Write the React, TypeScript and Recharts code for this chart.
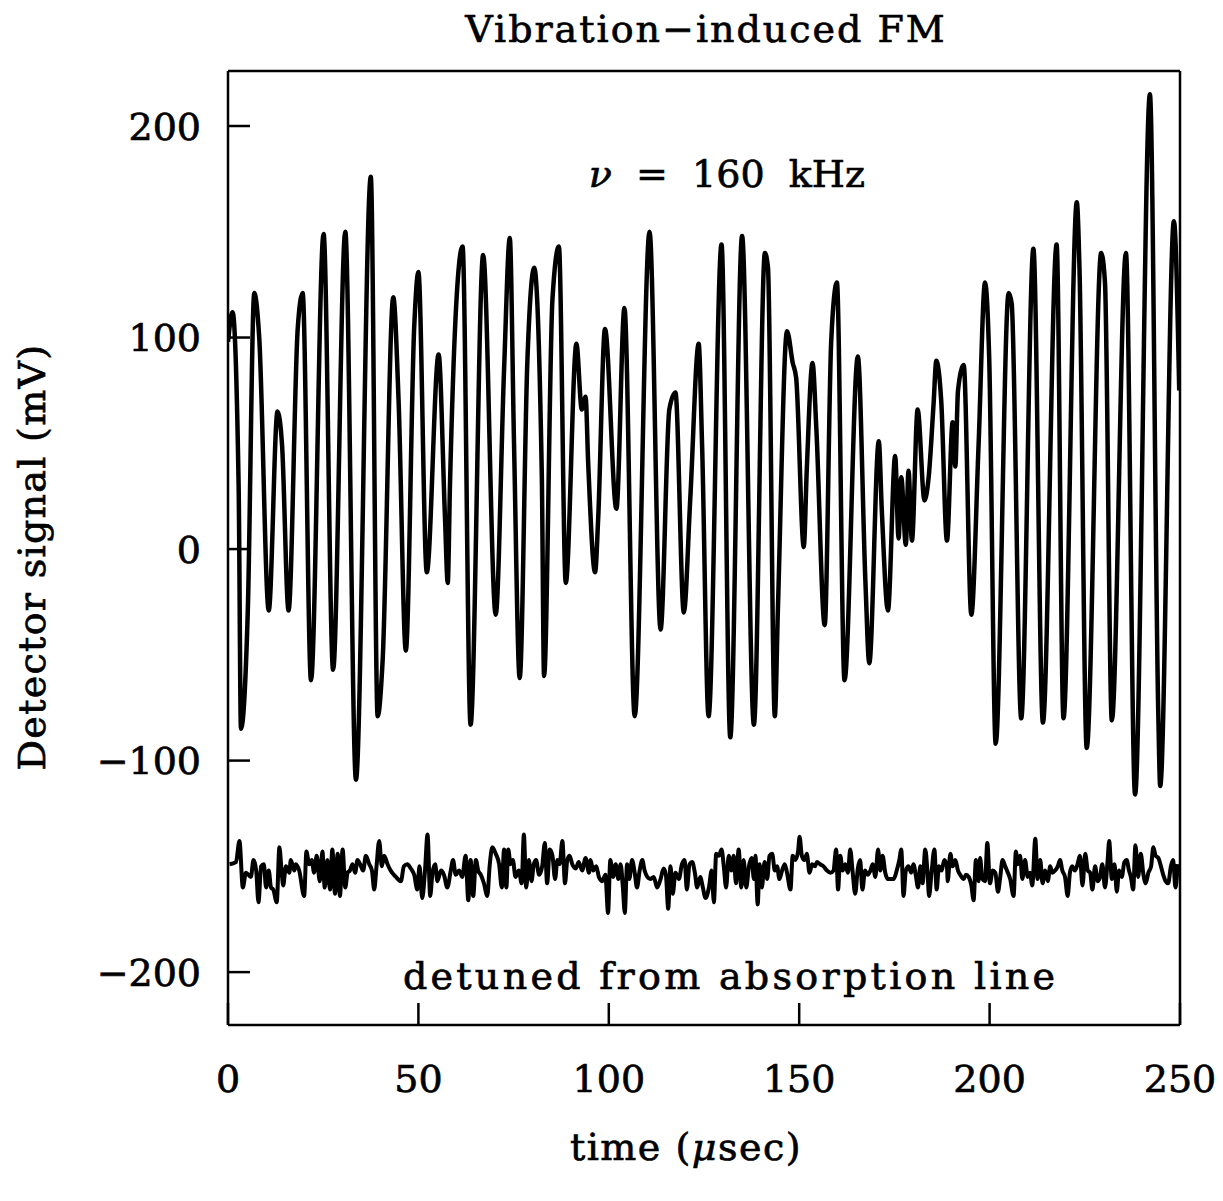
import { LineChart, Line, XAxis, YAxis, ReferenceDot } from 'recharts'

const xTicks = [0, 50, 100, 150, 200, 250]
const yTicks = [-200, -100, 0, 100, 200]

// detector output with the laser on the absorption line, [t (usec), mV]
const onLine: [number, number][] = [
  [0, 98], [1.2, 112], [2.8, 29], [3.4, -85], [5.2, -29], [6.9, 121], [8.2, 100], [10.7, -29],
  [13.0, 65], [14.2, 49], [15.9, -29], [18.3, 104], [19.6, 121], [21.8, -62], [25.1, 149], [27.6, -57],
  [30.8, 150], [33.6, -109], [37.5, 176], [39.3, -79], [40.6, -53], [43.4, 119], [44.8, 70], [46.7, -48],
  [48.9, 105], [50.0, 131], [52.2, -11], [55.3, 92], [57.0, 14], [57.7, -16], [58.3, 31], [59.8, 111],
  [61.6, 143], [63.7, -83], [67.0, 139], [70.3, -31], [72.5, 85], [74.0, 147], [75.1, 51], [76.6, -61],
  [78.6, 88], [80.4, 133], [82.4, 36], [83.0, -60], [85.2, 118], [86.9, 143], [88.7, -16], [91.5, 97],
  [92.9, 66], [93.9, 72], [94.6, 40], [96.4, -11], [97.2, 14], [99.0, 104], [102.0, 19], [104.1, 114],
  [106.8, -79], [110.7, 150], [113.6, -38], [115.9, 66], [117.5, 74], [119.7, -30], [121.4, 24], [123.6, 97],
  [124.5, 49], [126.2, -79], [129.6, 144], [131.9, -89], [135.0, 148], [138.1, -83], [141.0, 140], [141.8, 133],
  [143.6, -79], [144.4, -29], [146.8, 103], [148.3, 88], [149.2, 81], [151.2, 1], [152.0, 38], [153.5, 88],
  [154.5, 57], [156.7, -36], [158.4, 98], [159.9, 126], [161.9, -62], [165.4, 91], [167.4, -16], [168.4, -54],
  [170.9, 51], [171.7, 18], [173.3, -29], [175.2, 44], [176.1, 5], [176.8, 34], [178.0, 2], [178.7, 37],
  [179.6, 4], [181.1, 66], [182.9, 23], [184.0, 34], [185.3, 69], [186.0, 89], [187.3, 70], [188.8, 4],
  [190.3, 60], [191.0, 39], [191.7, 75], [193.2, 87], [195.2, -31], [197.1, 49], [198.8, 126], [199.9, 90],
  [201.6, -92], [205.0, 121], [205.8, 116], [208.3, -80], [211.5, 142], [214.0, -82], [217.6, 144], [219.4, -80],
  [222.9, 164], [223.6, 133], [225.5, -94], [229.3, 140], [230.3, 126], [232.1, -81], [235.8, 140], [238.2, -116],
  [242.1, 215], [244.3, -78], [244.8, -112], [248.4, 155], [249.8, 75],
]

// same, laser detuned from the line
const detuned: [number, number][] = [
  [0.4, -149], [2.1, -148], [3.0, -138], [3.9, -160], [4.7, -153], [6.0, -155], [6.7, -147], [7.4, -152],
  [8.0, -167], [8.7, -150], [9.4, -149], [10.0, -160], [10.7, -152], [11.3, -160], [11.9, -161], [12.8, -167],
  [13.5, -141], [14.1, -153], [14.5, -159], [15.2, -150], [16.1, -153], [16.5, -147], [17.4, -152], [17.8, -149],
  [18.7, -152], [20.0, -164], [20.6, -143], [21.3, -149], [22.0, -147], [22.6, -153], [23.3, -145], [24.1, -157],
  [24.8, -143], [25.4, -160], [26.1, -147], [26.8, -161], [27.4, -142], [28.1, -163], [28.8, -144], [29.4, -164],
  [30.1, -142], [30.8, -160], [31.4, -153], [32.0, -152], [32.7, -149], [33.4, -153], [34.0, -147], [34.7, -149],
  [35.5, -152], [36.2, -145], [37.1, -149], [37.8, -152], [38.4, -161], [39.0, -150], [39.7, -138], [40.4, -150],
  [41.0, -145], [41.9, -149], [42.7, -152], [44.1, -155], [45.4, -157], [46.2, -150], [47.1, -149], [48.0, -151],
  [48.9, -154], [49.7, -161], [50.3, -150], [51.0, -165], [51.7, -153], [52.4, -135], [53.1, -164], [53.7, -153],
  [54.4, -149], [55.0, -157], [55.9, -152], [56.7, -154], [57.6, -160], [58.5, -152], [59.1, -147], [59.8, -154],
  [60.7, -152], [61.5, -155], [62.4, -145], [63.1, -166], [63.7, -147], [64.4, -164], [65.1, -147], [65.7, -152],
  [66.4, -154], [67.2, -158], [68.1, -164], [68.7, -150], [69.4, -141], [70.3, -144], [71.2, -149], [71.9, -160],
  [72.5, -142], [73.1, -160], [73.6, -142], [74.2, -149], [74.8, -147], [75.5, -155], [76.4, -152], [77.1, -158],
  [77.7, -135], [78.3, -160], [79.0, -147], [79.7, -157], [80.3, -149], [80.9, -147], [81.7, -154], [82.5, -150],
  [83.2, -139], [83.8, -158], [84.5, -142], [85.2, -145], [85.9, -156], [86.5, -147], [87.1, -149], [87.8, -138],
  [88.5, -158], [89.1, -147], [89.7, -145], [90.4, -149], [91.3, -151], [92.1, -148], [93.0, -152], [93.9, -146],
  [94.8, -153], [95.2, -147], [95.9, -152], [96.7, -150], [97.4, -155], [98.3, -157], [99.1, -154], [99.8, -172],
  [100.4, -147], [101.1, -155], [101.8, -149], [102.5, -156], [103.1, -149], [103.7, -160], [104.2, -172], [104.8, -149],
  [105.4, -156], [106.1, -147], [106.8, -153], [107.4, -160], [108.1, -152], [108.8, -147], [109.4, -152], [110.1, -155],
  [110.9, -156], [111.8, -155], [112.7, -160], [113.6, -156], [114.4, -151], [115.0, -154], [115.6, -170], [116.2, -150],
  [116.8, -163], [117.5, -153], [118.4, -156], [119.2, -149], [119.9, -147], [120.5, -161], [121.2, -149], [121.9, -148],
  [122.6, -153], [123.2, -160], [124.0, -155], [124.7, -160], [125.4, -165], [126.3, -160], [127.0, -152], [127.6, -167],
  [128.2, -144], [128.9, -145], [129.6, -142], [130.2, -150], [130.8, -160], [131.5, -145], [132.2, -152], [132.8, -145],
  [133.4, -158], [134.1, -142], [134.8, -160], [135.4, -147], [136.1, -160], [136.8, -150], [137.5, -146], [138.1, -156],
  [138.5, -145], [139.1, -168], [139.6, -149], [140.2, -160], [140.9, -148], [141.6, -156], [142.2, -145], [142.9, -144],
  [143.6, -152], [144.2, -150], [144.8, -156], [145.5, -152], [146.2, -149], [146.8, -153], [147.7, -161], [148.3, -145],
  [149.0, -147], [149.7, -143], [150.1, -136], [150.7, -145], [151.4, -147], [152.0, -144], [152.7, -153], [153.4, -149],
  [154.1, -150], [154.7, -148], [155.5, -149], [156.4, -150], [157.3, -152], [158.2, -153], [159.0, -152], [159.7, -142],
  [160.2, -161], [160.8, -145], [161.4, -152], [162.1, -149], [162.8, -153], [163.4, -142], [164.0, -152], [164.7, -163],
  [165.4, -151], [166.0, -147], [166.6, -161], [167.3, -152], [168.0, -154], [168.7, -152], [169.3, -149], [170.0, -155],
  [170.7, -142], [171.3, -152], [171.9, -145], [172.6, -153], [173.3, -156], [173.9, -156], [174.8, -156], [175.6, -152],
  [176.3, -147], [176.8, -142], [177.4, -164], [178.0, -152], [178.7, -150], [179.4, -153], [180.0, -149], [180.6, -154],
  [181.2, -160], [181.8, -150], [182.4, -158], [183.1, -142], [183.7, -153], [184.1, -164], [184.8, -152], [185.5, -142],
  [186.1, -161], [186.7, -150], [187.4, -152], [188.1, -147], [188.8, -150], [189.0, -157], [189.7, -144], [190.3, -150],
  [191.0, -147], [191.7, -152], [192.3, -154], [193.2, -156], [193.8, -154], [194.5, -155], [195.2, -159], [195.8, -166],
  [196.4, -147], [197.1, -157], [197.5, -146], [198.1, -156], [198.8, -157], [199.4, -139], [200.1, -158], [200.8, -152],
  [201.5, -153], [202.2, -162], [202.8, -155], [203.4, -147], [204.1, -150], [204.8, -153], [205.4, -156], [206.3, -164],
  [206.9, -143], [207.4, -149], [208.0, -145], [208.6, -156], [209.3, -147], [210.0, -155], [210.6, -153], [211.2, -159],
  [212.0, -137], [212.6, -156], [213.3, -147], [213.9, -158], [214.6, -152], [215.3, -157], [215.9, -150], [216.5, -153],
  [217.2, -152], [217.9, -150], [218.5, -147], [219.1, -152], [219.8, -155], [220.5, -164], [221.1, -153], [221.7, -150],
  [222.4, -152], [223.1, -149], [223.7, -145], [224.4, -159], [225.1, -144], [225.8, -152], [226.4, -153], [227.0, -161],
  [227.7, -150], [228.4, -157], [229.0, -155], [229.6, -149], [230.3, -160], [231.0, -147], [231.4, -138], [232.1, -156],
  [232.8, -149], [233.4, -162], [234.0, -152], [234.7, -155], [235.4, -148], [236.0, -147], [236.6, -152], [237.1, -155],
  [237.7, -161], [238.3, -140], [239.0, -155], [239.7, -144], [240.4, -154], [241.0, -158], [241.7, -153], [242.4, -150],
  [243.0, -141], [243.6, -145], [244.3, -146], [245.0, -150], [245.6, -154], [246.2, -157], [246.9, -158], [247.6, -150],
  [248.2, -147], [248.8, -160], [249.4, -149],
]

const onRows = onLine.map(([t, v]) => ({ t, v }))
const offRows = detuned.map(([t, v]) => ({ t, v }))

const FONT = '"DejaVu Serif", serif'
const FS = 38
const TICK = 22
const INK = '#000'
// the scanned lettering is heavier than DejaVu, so give every glyph a thin outline
const txt = { fontFamily: FONT, fontSize: FS, fill: INK, stroke: INK, strokeWidth: 0.7 }
const fmt = (v: number) => (v < 0 ? '\u2212' + Math.abs(v) : String(v))

function BottomTick({ x, y, payload }: any) {
  return (
    <g>
      <line x1={x} y1={y} x2={x} y2={y - TICK} stroke={INK} strokeWidth={2.5} />
      <text x={x} y={y + 67} textAnchor="middle" {...txt}>
        {fmt(payload.value)}
      </text>
    </g>
  )
}

function TopTick({ x, y }: any) {
  return <line x1={x} y1={y} x2={x} y2={y + TICK} stroke={INK} strokeWidth={2.5} />
}

function LeftTick({ x, y, payload }: any) {
  return (
    <g>
      <line x1={x} y1={y} x2={x + TICK} y2={y} stroke={INK} strokeWidth={2.5} />
      <text x={x - 27} y={y} dy="0.36em" textAnchor="end" {...txt}>
        {fmt(payload.value)}
      </text>
    </g>
  )
}

function RightTick({ x, y }: any) {
  return <line x1={x} y1={y} x2={x - TICK} y2={y} stroke={INK} strokeWidth={2.5} />
}

const axisLine = { stroke: INK, strokeWidth: 2.5 }

export default function App() {
  return (
    <LineChart width={1207} height={1185} margin={{ top: 53, right: 25, bottom: 38, left: 100 }}>
      <XAxis
        dataKey="t"
        type="number"
        domain={[0, 250]}
        ticks={xTicks}
        interval={0}
        allowDataOverflow
        height={130}
        tickSize={0}
        tickMargin={0}
        tick={<BottomTick />}
        axisLine={axisLine}
        label={{
          content: ({ viewBox }: any) => (
            <text
              x={viewBox.x + viewBox.width / 2 - 18}
              y={viewBox.y + 135}
              textAnchor="middle"
              letterSpacing={1.5}
              {...txt}
            >
              time (<tspan fontStyle="italic">μ</tspan>sec)
            </text>
          ),
        }}
      />
      <XAxis
        xAxisId="top"
        orientation="top"
        dataKey="t"
        type="number"
        domain={[0, 250]}
        ticks={xTicks}
        interval={0}
        height={10}
        tickSize={0}
        tickMargin={0}
        tick={<TopTick />}
        axisLine={axisLine}
        label={{
          content: ({ viewBox }: any) => (
            <text
              x={viewBox.x + viewBox.width / 2 + 2}
              y={viewBox.y - 19}
              textAnchor="middle"
              letterSpacing={2}
              {...txt}
            >
              Vibration{'\u2212'}induced FM
            </text>
          ),
        }}
      />
      <YAxis
        type="number"
        domain={[-225, 226]}
        ticks={yTicks}
        interval={0}
        allowDataOverflow
        width={120}
        tickSize={0}
        tickMargin={0}
        tick={<LeftTick />}
        axisLine={axisLine}
        label={{
          content: ({ viewBox }: any) => {
            const cx = viewBox.x - 63
            const cy = viewBox.y + viewBox.height / 2 + 9
            return (
              <text
                x={cx}
                y={cy}
                transform={`rotate(-90 ${cx} ${cy})`}
                textAnchor="middle"
                letterSpacing={1.3}
                {...txt}
              >
                Detector signal (mV)
              </text>
            )
          },
        }}
      />
      <YAxis
        yAxisId="right"
        orientation="right"
        type="number"
        domain={[-225, 226]}
        ticks={yTicks}
        interval={0}
        width={10}
        tickSize={0}
        tickMargin={0}
        tick={<RightTick />}
        axisLine={axisLine}
      />
      <ReferenceDot
        x={131}
        y={171}
        r={0}
        stroke="none"
        label={{
          content: ({ viewBox }: any) => (
            <text
              x={viewBox.x + (viewBox.width || 0) / 2}
              y={viewBox.y + (viewBox.height || 0) / 2}
              textAnchor="middle"
              style={{ whiteSpace: 'pre' }}
              {...txt}
            >
              <tspan fontStyle="italic">ν</tspan>  =  160  kHz
            </text>
          ),
        }}
      />
      <ReferenceDot
        x={132}
        y={-208}
        r={0}
        stroke="none"
        label={{
          content: ({ viewBox }: any) => (
            <text
              x={viewBox.x + (viewBox.width || 0) / 2}
              y={viewBox.y + (viewBox.height || 0) / 2}
              textAnchor="middle"
              letterSpacing={3.3}
              {...txt}
            >
              detuned from absorption line
            </text>
          ),
        }}
      />
      <Line
        data={onRows}
        dataKey="v"
        type="monotone"
        stroke={INK}
        strokeWidth={4.5}
        strokeLinejoin="round"
        dot={false}
        isAnimationActive={false}
      />
      <Line
        data={offRows}
        dataKey="v"
        type="monotone"
        stroke={INK}
        strokeWidth={4}
        strokeLinejoin="round"
        dot={false}
        isAnimationActive={false}
      />
    </LineChart>
  )
}
